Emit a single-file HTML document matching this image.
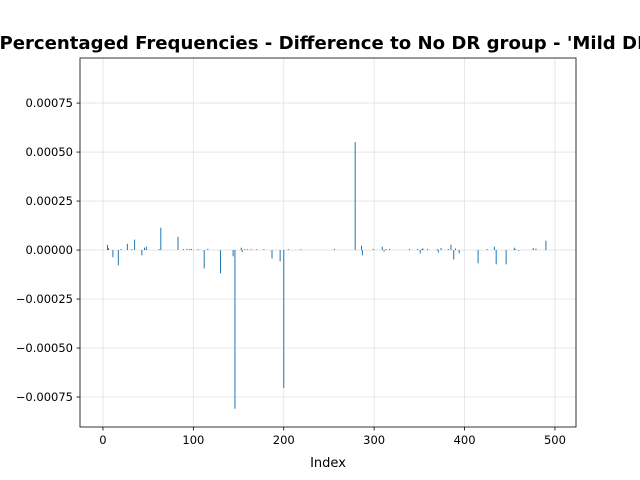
<!DOCTYPE html>
<html><head><meta charset="utf-8"><style>
body{margin:0;background:#fff;}
svg{display:block;font-family:"DejaVu Sans","Liberation Sans",sans-serif;}
</style></head><body>
<svg id="chart" width="640" height="480">
<text x="328" y="49" text-anchor="middle" font-size="18.1" font-weight="bold">Percentaged Frequencies - Difference to No DR group - 'Mild DR'</text>
<g id="grid"></g>
<g id="bars"></g>
<rect x="80" y="58" width="496" height="369" fill="none" stroke="#000" stroke-width="0.8"/>
<g id="ticks"></g>
<text x="328" y="467" text-anchor="middle" font-size="13">Index</text>
</svg>
<script>
const indices = [5,6,11,17,20,27,32,35,43,46,48,62,64,83,89,93,96,98,105,112,116,130,144,146,153,154,157,160,164,170,178,187,196,200,205,219,256,279,286,287,299,309,311,313,317,339,348,351,353,354,359,370,371,374,382,385,388,390,394,415,425,433,435,446,455,456,460,476,479,490];
const values = [2.7,1,-3.7,-7.8,0.5,3.2,0.5,5.3,-2.7,1.2,1.7,0.5,11.4,6.8,0.5,0.6,0.5,0.5,0.4,-9.4,0.6,-11.9,-3.2,-81,1.2,-1,0.4,0.4,0.4,0.4,0.4,-4.3,-5.8,-70.4,0.5,0.4,0.6,55.1,2.2,-2.7,0.5,1.7,-0.8,0.5,0.5,0.5,0.5,-1.7,0.7,0.7,0.5,0.5,-1.3,1,0.5,2.7,-4.8,0.8,-1.7,-6.8,0.5,1.7,-7.3,-7.3,1.2,0.5,-0.4,1,0.7,4.8];
const xTicks = [0,100,200,300,400,500];
const yTicks = [-0.00075,-0.0005,-0.00025,0,0.00025,0.0005,0.00075];
const yTickLabels = ["\u22120.00075","\u22120.00050","\u22120.00025","0.00000","0.00025","0.00050","0.00075"];
const X0=80,X1=576,Y0=58,Y1=427;
const xMin=-25.4,xMax=523.3,yMin=-0.000903,yMax=0.00098;
const sx=v=>X0+(v-xMin)/(xMax-xMin)*(X1-X0);
const sy=v=>Y1-(v-yMin)/(yMax-yMin)*(Y1-Y0);
const NS="http://www.w3.org/2000/svg";
const grid=document.getElementById('grid'),bars=document.getElementById('bars'),ticks=document.getElementById('ticks');
function mk(tag,attrs,parent){const e=document.createElementNS(NS,tag);for(const k in attrs)e.setAttribute(k,attrs[k]);parent.appendChild(e);return e;}
xTicks.forEach(t=>{
  const x=sx(t);
  const g=mk('line',{x1:x,x2:x,y1:Y0,y2:Y1,stroke:'#e0e0e0','stroke-width':0.8},grid);
  
  
  const tk=mk('line',{x1:x,x2:x,y1:Y1,y2:Y1+3.5,stroke:'#000','stroke-width':0.8},ticks);
  
  
  const lb=mk('text',{x:x,y:Y1+17,'text-anchor':'middle','font-size':'11.5'},ticks);
  lb.textContent=t;
  
  
});
yTicks.forEach((t,i)=>{
  const y=sy(t);
  const g=mk('line',{x1:X0,x2:X1,y1:y,y2:y,stroke:'#e0e0e0','stroke-width':0.8},grid);
  
  
  const tk=mk('line',{x1:X0-3.5,x2:X0,y1:y,y2:y,stroke:'#000','stroke-width':0.8},ticks);
  
  
  const lb=mk('text',{x:X0-7,y:y+4,'text-anchor':'end','font-size':'11.5'},ticks);
  lb.textContent=yTickLabels[i];
  
  
});
indices.forEach((idx,i)=>{
  const v=values[i]*1e-5;
  const x=sx(idx);
  const ya=sy(Math.max(v,0)),yb=sy(Math.min(v,0));
  const r=mk('rect',{x:x-0.5,y:ya,width:1,height:Math.max(yb-ya,0.5),fill:'#1f77b4'},bars);
  
  
});
</script>
</body></html>
